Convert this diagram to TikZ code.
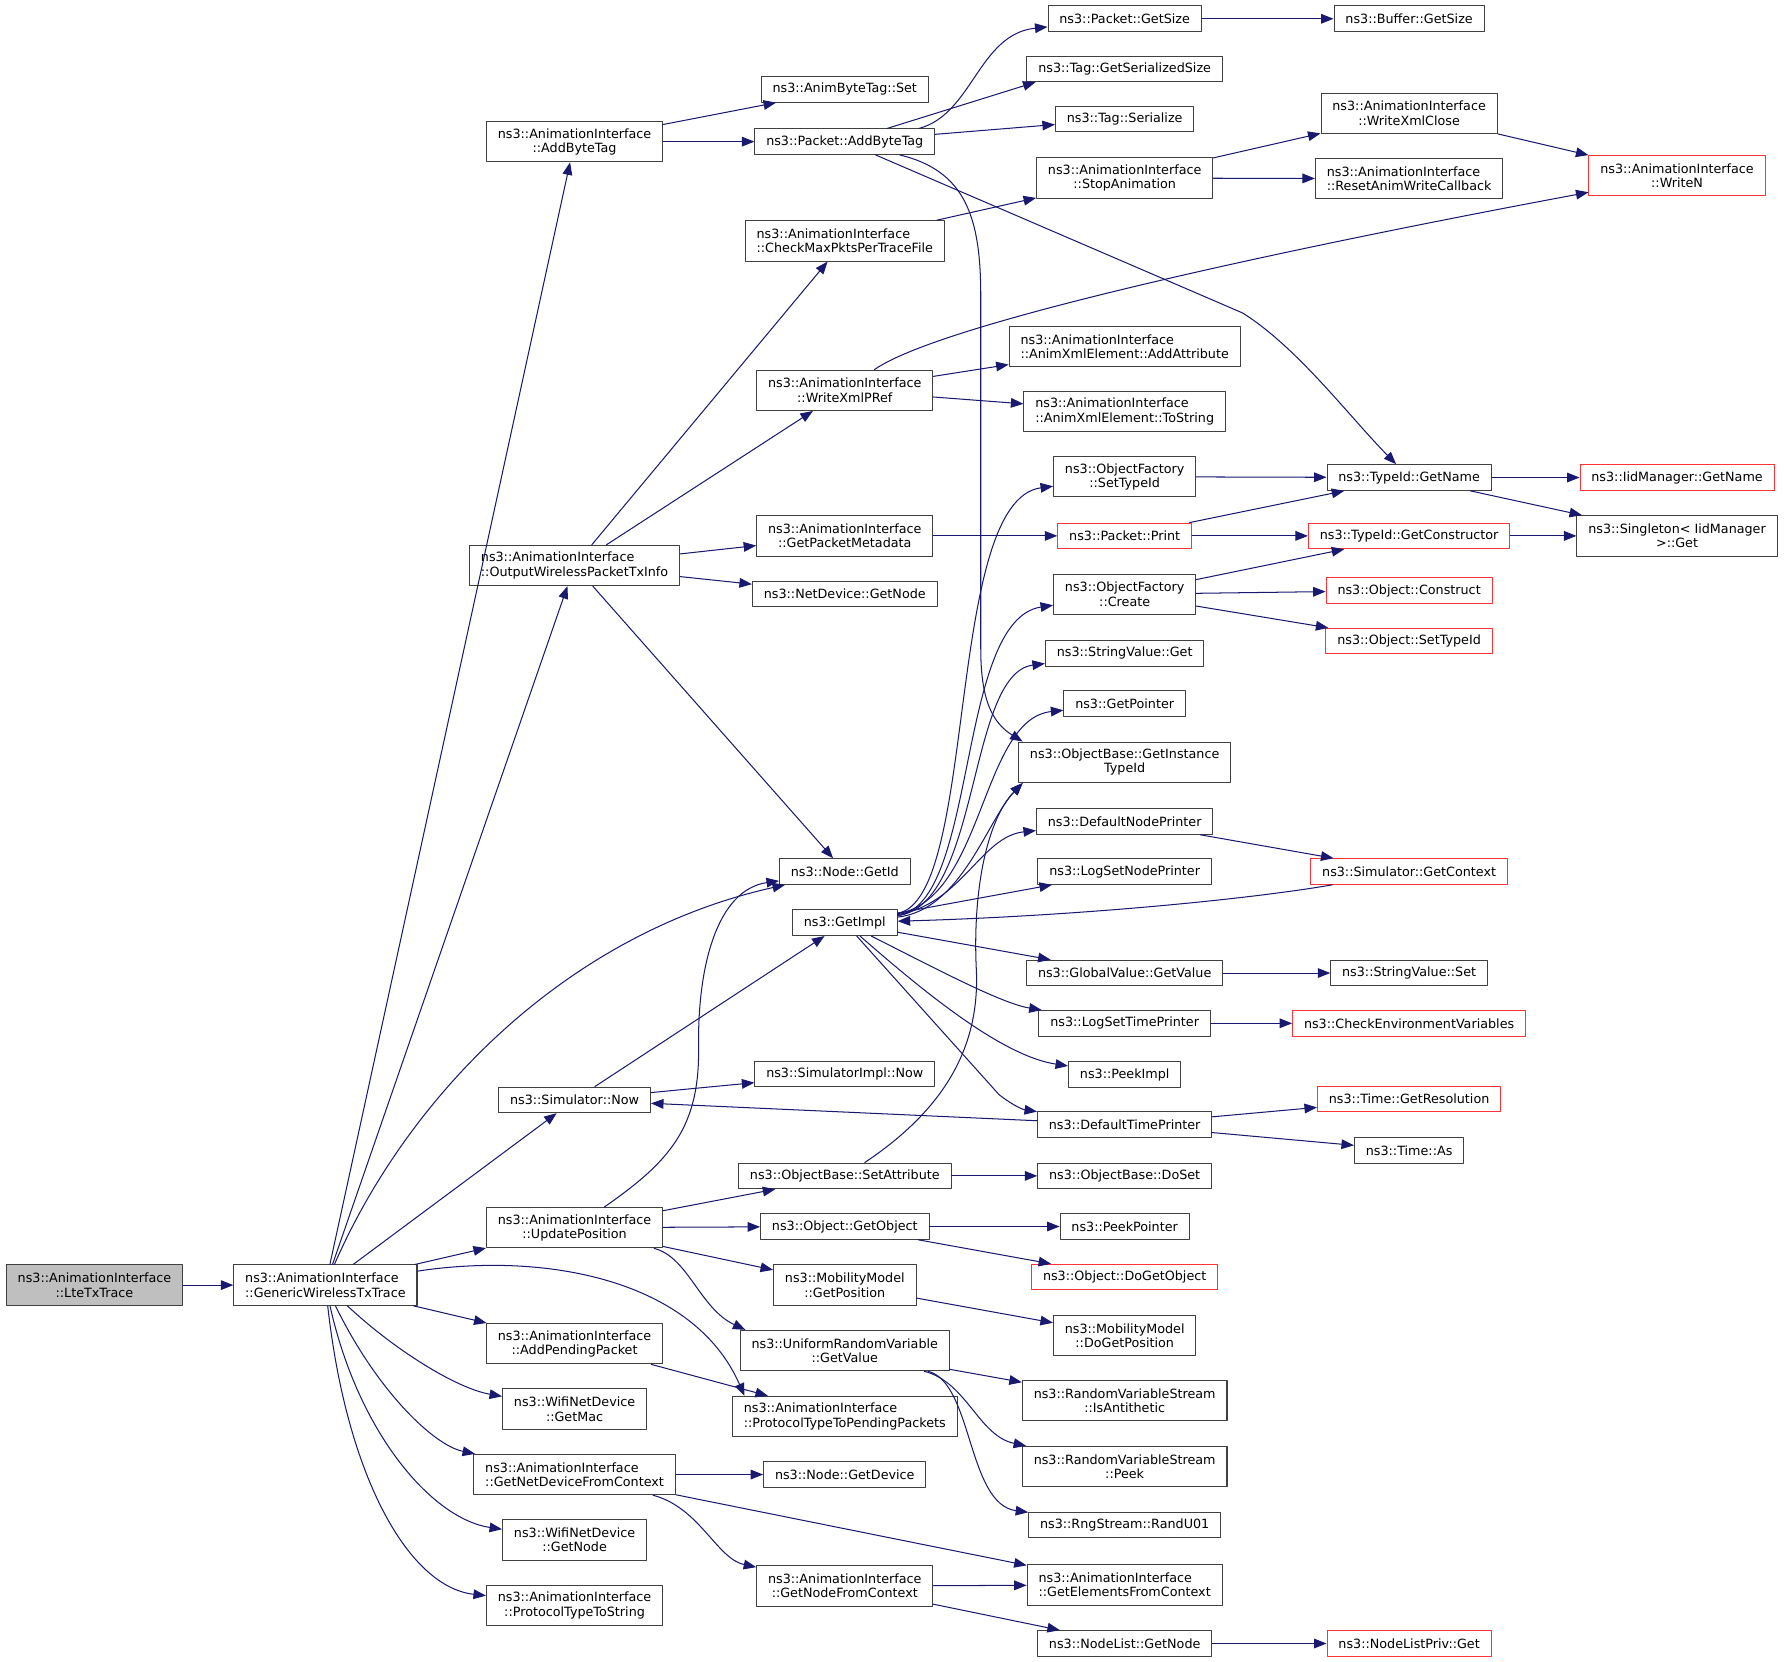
\documentclass[tikz,border=0pt]{standalone}
\usepackage{fontspec}
\setmainfont{DejaVu Sans}
\usetikzlibrary{arrows.meta}
\definecolor{edgeblue}{HTML}{191970}
\definecolor{boxgray}{HTML}{404040}
\definecolor{boxred}{HTML}{FF3333}
\definecolor{rootfill}{HTML}{BFBFBF}

\begin{document}
\begin{tikzpicture}[x=1pt, y=-1pt, line cap = round, line join = round, >={Triangle[length=11pt,width=8.5pt]}]
\tikzstyle{fnbox}=[draw=boxgray, fill=white, line width=0.9pt, inner xsep=10pt, inner ysep=2pt, minimum height=22.5pt, align=center, font=\fontsize{11.2}{12.6}\selectfont]
\tikzstyle{dbl}=[minimum height=35.5pt]
\tikzstyle{lft}=[align=left]
\tikzstyle{rootbox}=[fnbox, fill=rootfill]
\tikzstyle{redbox}=[fnbox, draw=boxred]
\tikzstyle{call}=[->, draw=edgeblue, line width=0.9pt]
\useasboundingbox (0,0) rectangle (1568,1460);

% callers
\node[rootbox,dbl] (lte) at (83,1129.5) {ns3::AnimationInterface\\::LteTxTrace};
\node[fnbox,dbl,lft] (gen) at (286,1129.5) {ns3::AnimationInterface\\::GenericWirelessTxTrace};

% second column
\node[fnbox,dbl] (abt) at (505,124.5) {ns3::AnimationInterface\\::AddByteTag};
\node[fnbox,dbl,lft] (owpti) at (505,497) {ns3::AnimationInterface\\::OutputWirelessPacketTxInfo};
\node[fnbox] (snow) at (505,966.7) {ns3::Simulator::Now};
\node[fnbox,dbl] (upos) at (505,1079) {ns3::AnimationInterface\\::UpdatePosition};
\node[fnbox,dbl] (app) at (505,1181) {ns3::AnimationInterface\\::AddPendingPacket};
\node[fnbox,dbl] (wgm) at (505,1238.5) {ns3::WifiNetDevice\\::GetMac};
\node[fnbox,dbl,lft] (gndc) at (505,1296) {ns3::AnimationInterface\\::GetNetDeviceFromContext};
\node[fnbox,dbl] (wgn) at (505,1353.5) {ns3::WifiNetDevice\\::GetNode};
\node[fnbox,dbl] (ptts) at (505,1411) {ns3::AnimationInterface\\::ProtocolTypeToString};

% third column
\node[fnbox] (abts) at (742.5,78.5) {ns3::AnimByteTag::Set};
\node[fnbox] (pabt) at (742.5,124.5) {ns3::Packet::AddByteTag};
\node[fnbox,dbl,lft] (cmp) at (742.5,211.7) {ns3::AnimationInterface\\::CheckMaxPktsPerTraceFile};
\node[fnbox,dbl] (wxp) at (742.5,343) {ns3::AnimationInterface\\::WriteXmlPRef};
\node[fnbox,dbl] (gpm) at (742.5,471) {ns3::AnimationInterface\\::GetPacketMetadata};
\node[fnbox] (ndgn) at (742.5,522) {ns3::NetDevice::GetNode};
\node[fnbox] (ngid) at (742.5,766) {ns3::Node::GetId};
\node[fnbox] (gimpl) at (742.5,811) {ns3::GetImpl};
\node[fnbox] (sinow) at (742.5,944) {ns3::SimulatorImpl::Now};
\node[fnbox] (osa) at (742.5,1033.5) {ns3::ObjectBase::SetAttribute};
\node[fnbox] (ogo) at (742.5,1078) {ns3::Object::GetObject};
\node[fnbox,dbl] (mgp) at (742.5,1129.5) {ns3::MobilityModel\\::GetPosition};
\node[fnbox,dbl] (urv) at (742.5,1187) {ns3::UniformRandomVariable\\::GetValue};
\node[fnbox,dbl,lft] (ptpp) at (742.5,1245) {ns3::AnimationInterface\\::ProtocolTypeToPendingPackets};
\node[fnbox] (ngd) at (742.5,1296) {ns3::Node::GetDevice};
\node[fnbox,dbl] (gnfc) at (742.5,1394) {ns3::AnimationInterface\\::GetNodeFromContext};

% fourth column
\node[fnbox] (pgs) at (988.5,16.5) {ns3::Packet::GetSize};
\node[fnbox] (tgss) at (988.5,60.5) {ns3::Tag::GetSerializedSize};
\node[fnbox] (tser) at (988.5,104.5) {ns3::Tag::Serialize};
\node[fnbox,dbl] (stop) at (988.5,156.5) {ns3::AnimationInterface\\::StopAnimation};
\node[fnbox,dbl,lft] (xadd) at (988.5,304.5) {ns3::AnimationInterface\\::AnimXmlElement::AddAttribute};
\node[fnbox,dbl,lft] (xstr) at (988.5,361.7) {ns3::AnimationInterface\\::AnimXmlElement::ToString};
\node[fnbox,dbl] (ofst) at (988.5,419) {ns3::ObjectFactory\\::SetTypeId};
\node[redbox] (ppr) at (988.5,471) {ns3::Packet::Print};
\node[fnbox,dbl] (ofc) at (988.5,522.3) {ns3::ObjectFactory\\::Create};
\node[fnbox] (svg) at (988.5,574.2) {ns3::StringValue::Get};
\node[fnbox] (gptr) at (988.5,618.5) {ns3::GetPointer};
\node[fnbox,dbl] (git) at (988.5,670) {ns3::ObjectBase::GetInstance\\TypeId};
\node[fnbox] (dnp) at (988.5,722) {ns3::DefaultNodePrinter};
\node[fnbox] (lsnp) at (988.5,766) {ns3::LogSetNodePrinter};
\node[fnbox] (gvgv) at (988.5,855.2) {ns3::GlobalValue::GetValue};
\node[fnbox] (lstp) at (988.5,899.4) {ns3::LogSetTimePrinter};
\node[fnbox] (pimpl) at (988.5,944.4) {ns3::PeekImpl};
\node[fnbox] (dtp) at (988.5,988.5) {ns3::DefaultTimePrinter};
\node[fnbox] (dset) at (988.5,1033.5) {ns3::ObjectBase::DoSet};
\node[fnbox] (pptr) at (988.5,1078) {ns3::PeekPointer};
\node[redbox] (dgo) at (988.5,1122.5) {ns3::Object::DoGetObject};
\node[fnbox,dbl] (mdgp) at (988.5,1174) {ns3::MobilityModel\\::DoGetPosition};
\node[fnbox,dbl] (rvsa) at (988.5,1231) {ns3::RandomVariableStream\\::IsAntithetic};
\node[fnbox,dbl] (rvsp) at (988.5,1289) {ns3::RandomVariableStream\\::Peek};
\node[fnbox] (rngu) at (988.5,1340.5) {ns3::RngStream::RandU01};
\node[fnbox,dbl,lft] (gefc) at (988.5,1393) {ns3::AnimationInterface\\::GetElementsFromContext};
\node[fnbox] (nlgn) at (988.5,1444.5) {ns3::NodeList::GetNode};

% fifth column
\node[fnbox] (bgs) at (1238.5,16.5) {ns3::Buffer::GetSize};
\node[fnbox,dbl] (wxc) at (1238.5,99.5) {ns3::AnimationInterface\\::WriteXmlClose};
\node[fnbox,dbl,lft] (rawc) at (1238.5,157) {ns3::AnimationInterface\\::ResetAnimWriteCallback};
\node[fnbox] (tgn) at (1238.5,419.7) {ns3::TypeId::GetName};
\node[redbox] (tgc) at (1238.5,471) {ns3::TypeId::GetConstructor};
\node[redbox] (ocon) at (1238.5,519) {ns3::Object::Construct};
\node[redbox] (osti) at (1238.5,563.5) {ns3::Object::SetTypeId};
\node[redbox] (sgc) at (1238.5,766) {ns3::Simulator::GetContext};
\node[fnbox] (svs) at (1238.5,855.2) {ns3::StringValue::Set};
\node[redbox] (cev) at (1238.5,899.4) {ns3::CheckEnvironmentVariables};
\node[redbox] (tgr) at (1238.5,966) {ns3::Time::GetResolution};
\node[fnbox] (tas) at (1238.5,1011) {ns3::Time::As};
\node[redbox] (nlpg) at (1238.5,1444.5) {ns3::NodeListPriv::Get};

% last column
\node[redbox,dbl] (wn) at (1474,154.5) {ns3::AnimationInterface\\::WriteN};
\node[redbox] (igm) at (1474,419.7) {ns3::IidManager::GetName};
\node[fnbox,dbl] (sig) at (1474,471) {ns3::Singleton< IidManager\\>::Get};

% calls out of GenericWirelessTxTrace
\draw[call] (lte) -- (gen);
\draw[call] (gen) -- (abt);
\draw[call] (gen) -- (owpti);
\draw[call] (gen) .. controls (360,960) and (500,820) .. (ngid);
\draw[call] (gen) -- (snow);
\draw[call] (gen) -- (upos);
\draw[call] (gen) .. controls (480,1100) and (610,1125) .. ([xshift=11pt]ptpp.north west);
\draw[call] (gen) -- (app);
\draw[call] (gen) .. controls (345,1185) and (400,1220) .. (wgm);
\draw[call] (gen) .. controls (330,1220) and (380,1270) .. (gndc);
\draw[call] (gen) .. controls (315,1260) and (380,1335) .. (wgn);
\draw[call] (gen) .. controls (305,1300) and (360,1395) .. (ptts);

% byte tags
\draw[call] (abt) -- (abts);
\draw[call] (abt) -- (pabt);
\draw[call] ([xshift=-14pt]pabt.north east) .. controls (855,100) and (860,30) .. (pgs);
\draw[call] (pabt) -- ([xshift=8pt]tgss.south west);
\draw[call] (pabt) -- (tser);
\draw[call] (pabt) -- (1092,275) .. controls (1140,305) and (1185,365) .. (tgn);
\draw[call] (pabt) .. controls (848,150) and (862,190) .. (862,260) -- (862,570) .. controls (862,615) and (872,635) .. ([xshift=4pt]git.north west);
\draw[call] (pgs) -- (bgs);

% packet tx info
\draw[call] (owpti) -- (cmp);
\draw[call] (owpti) -- (wxp);
\draw[call] (owpti) -- (gpm);
\draw[call] (owpti) -- (ndgn);
\draw[call] (owpti) -- (ngid);
\draw[call] (cmp) -- (stop);
\draw[call] (stop) -- (wxc);
\draw[call] (stop) -- (rawc);
\draw[call] (wxc) -- (wn);
\draw[call] (wxp) .. controls (830,282) and (1150,215) .. (wn);
\draw[call] (wxp) -- (xadd);
\draw[call] (wxp) -- (xstr);
\draw[call] (gpm) -- (ppr);
\draw[call] (ppr) -- (tgn);
\draw[call] (ppr) -- (tgc);
\draw[call] (ofst) -- (tgn);
\draw[call] (tgn) -- (igm);
\draw[call] (tgn) -- (sig);
\draw[call] (tgc) -- (sig);
\draw[call] (ofc) -- (tgc);
\draw[call] (ofc) -- (ocon);
\draw[call] (ofc) -- (osti);

% simulator
\draw[call] (snow) -- (gimpl);
\draw[call] (snow) -- (sinow);
\draw[call] (gimpl) .. controls (860,790) and (830,440) .. (ofst);
\draw[call] (gimpl) .. controls (860,795) and (840,545) .. (ofc);
\draw[call] (gimpl) .. controls (862,795) and (850,592) .. (svg);
\draw[call] (gimpl) .. controls (865,790) and (862,632) .. (gptr);
\draw[call] (gimpl) .. controls (845,800) and (868,720) .. ([xshift=4pt]git.south west);
\draw[call] (gimpl) .. controls (845,795) and (862,735) .. (dnp);
\draw[call] (gimpl) -- (lsnp);
\draw[call] (gimpl) -- (gvgv);
\draw[call] (gimpl) .. controls (820,850) and (880,882) .. (lstp);
\draw[call] (gimpl) .. controls (810,870) and (880,928) .. (pimpl);
\draw[call] (gimpl) -- (878,962) .. controls (888,970) and (898,975) .. (dtp);
\draw[call] (sgc) .. controls (1100,790) and (950,805) .. (gimpl);
\draw[call] (dnp) -- (sgc);
\draw[call] (gvgv) -- (svs);
\draw[call] (lstp) -- (cev);
\draw[call] (dtp) -- (snow);
\draw[call] (dtp) -- (tgr);
\draw[call] (dtp) -- (tas);

% positions
\draw[call] (upos) -- (osa);
\draw[call] (upos) -- (ogo);
\draw[call] (upos) -- (mgp);
\draw[call] (upos) .. controls (605,1105) and (615,1150) .. ([xshift=5pt]urv.north west);
\draw[call] (upos) .. controls (590,1020) and (615,990) .. (614,920) .. controls (613,850) and (630,782) .. (ngid);
\draw[call] (osa) -- (dset);
\draw[call] (osa) .. controls (830,975) and (862,920) .. (858,850) .. controls (855,780) and (868,720) .. ([xshift=4pt]git.south west);
\draw[call] (ogo) -- (pptr);
\draw[call] (ogo) -- (dgo);
\draw[call] (mgp) -- (mdgp);
\draw[call] (urv) -- (rvsa);
\draw[call] (urv) .. controls (850,1215) and (860,1262) .. (rvsp);
\draw[call] (urv) .. controls (855,1215) and (850,1322) .. (rngu);
\draw[call] (app) -- (ptpp);

% contexts
\draw[call] (gndc) -- (ngd);
\draw[call] (gndc) -- (gefc);
\draw[call] (gndc) .. controls (615,1325) and (630,1370) .. (gnfc);
\draw[call] (gnfc) -- (gefc);
\draw[call] (gnfc) -- (nlgn);
\draw[call] (nlgn) -- (nlpg);
\end{tikzpicture}
\end{document}
